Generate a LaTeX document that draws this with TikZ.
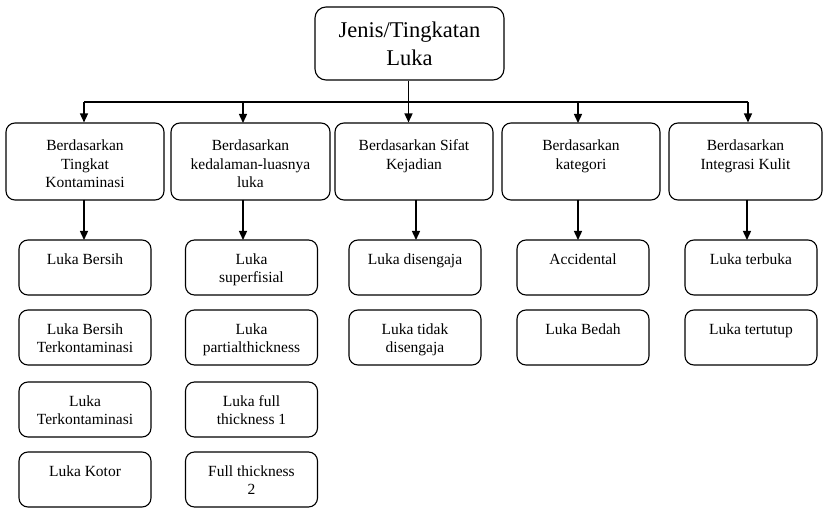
\documentclass[tikz,border=0pt]{standalone}
\usepackage{fontspec}
\setmainfont{Liberation Serif}
\usetikzlibrary{arrows.meta}

% box with text hanging from the top: #1 width, #2 height, #3 baseline of first line, #4 text
\newcommand{\topbox}[4]{\parbox[c][#2][t]{#1}{\centering\rule{0pt}{#3}#4}}

\tikzset{
  rbox/.style={draw=black, line width=1.1pt, rounded corners=9pt, inner sep=0pt, fill=white},
  headbox/.style={rbox, rounded corners=11pt, minimum width=189pt, minimum height=73pt,
    align=center, font=\fontsize{22.5}{28}\selectfont},
  midtext/.style={font=\fontsize{15.5}{18.5}\selectfont},
  leaftext/.style={font=\fontsize{15.5}{18.5}\selectfont},
  link/.style={line width=1.4pt},
  arr/.style={line width=1.4pt, -{Triangle[length=9pt,width=8pt]}}
}

\begin{document}
\begin{tikzpicture}[x=1pt, y=-1pt]
  \useasboundingbox (0,0) rectangle (823,508);

  % root
  \node[headbox] (root) at (409.5,43.5) {Jenis/Tingkatan\\Luka};

  % second level
  \node[rbox, midtext] (b1) at (85,161.5)  {\topbox{158pt}{77pt}{28pt}{Berdasarkan\\Tingkat\\Kontaminasi}};
  \node[rbox, midtext] (b2) at (250.5,161.5) {\topbox{159pt}{77pt}{28pt}{Berdasarkan\\kedalaman-luasnya\\luka}};
  \node[rbox, midtext] (b3) at (414,161.5) {\topbox{158pt}{77pt}{28pt}{Berdasarkan Sifat\\Kejadian}};
  \node[rbox, midtext] (b4) at (581,161.5) {\topbox{158pt}{77pt}{28pt}{Berdasarkan\\kategori}};
  \node[rbox, midtext] (b5) at (745.5,161.5) {\topbox{153pt}{77pt}{28pt}{Berdasarkan\\Integrasi Kulit}};

  % leaves, column 1
  \node[rbox, leaftext] (c11) at (85,267.5) {\topbox{132pt}{55pt}{24pt}{Luka Bersih}};
  \node[rbox, leaftext] (c12) at (85,337.5) {\topbox{132pt}{55pt}{24pt}{Luka Bersih\\Terkontaminasi}};
  \node[rbox, leaftext] (c13) at (85,409.5) {\topbox{132pt}{55pt}{24pt}{Luka\\Terkontaminasi}};
  \node[rbox, leaftext] (c14) at (85,479.5) {\topbox{132pt}{55pt}{24pt}{Luka Kotor}};

  % leaves, column 2
  \node[rbox, leaftext] (c21) at (251.5,267.5) {\topbox{132pt}{55pt}{24pt}{Luka\\superfisial}};
  \node[rbox, leaftext] (c22) at (251.5,337.5) {\topbox{132pt}{55pt}{24pt}{Luka\\partialthickness}};
  \node[rbox, leaftext] (c23) at (251.5,409.5) {\topbox{132pt}{55pt}{24pt}{Luka full\\thickness 1}};
  \node[rbox, leaftext] (c24) at (251.5,479.5) {\topbox{132pt}{55pt}{24pt}{Full thickness\\2}};

  % leaves, column 3
  \node[rbox, leaftext] (c31) at (415,267.5) {\topbox{132pt}{55pt}{24pt}{Luka disengaja}};
  \node[rbox, leaftext] (c32) at (415,337.5) {\topbox{132pt}{55pt}{24pt}{Luka tidak\\disengaja}};

  % leaves, column 4
  \node[rbox, leaftext] (c41) at (583,267.5) {\topbox{132pt}{55pt}{24pt}{Accidental}};
  \node[rbox, leaftext] (c42) at (583,337.5) {\topbox{132pt}{55pt}{24pt}{Luka Bedah}};

  % leaves, column 5
  \node[rbox, leaftext] (c51) at (751,267.5) {\topbox{132pt}{55pt}{24pt}{Luka terbuka}};
  \node[rbox, leaftext] (c52) at (751,337.5) {\topbox{132pt}{55pt}{24pt}{Luka tertutup}};

  % bus from the root
  \coordinate (bus) at (408.5,102);
  \coordinate (busL) at (84,102);
  \coordinate (busR) at (748,102);
  \draw[link] (root.south -| bus) -- (bus);
  \draw[link] (busL) -- (busR);

  % drops to the second level
  \draw[arr] (busL) -- (busL |- b1.north);
  \draw[arr] (243,102) -- (243,123);
  \draw[arr] (bus) -- (bus |- b3.north);
  \draw[arr] (578,102) -- (578,123);
  \draw[arr] (busR) -- (busR |- b5.north);

  % second level to first leaf
  \draw[arr] (84,200) -- (84,240);
  \draw[arr] (243,200) -- (243,240);
  \draw[arr] (416,200) -- (416,240);
  \draw[arr] (578,200) -- (578,240);
  \draw[arr] (747,200) -- (747,240);
\end{tikzpicture}
\end{document}
